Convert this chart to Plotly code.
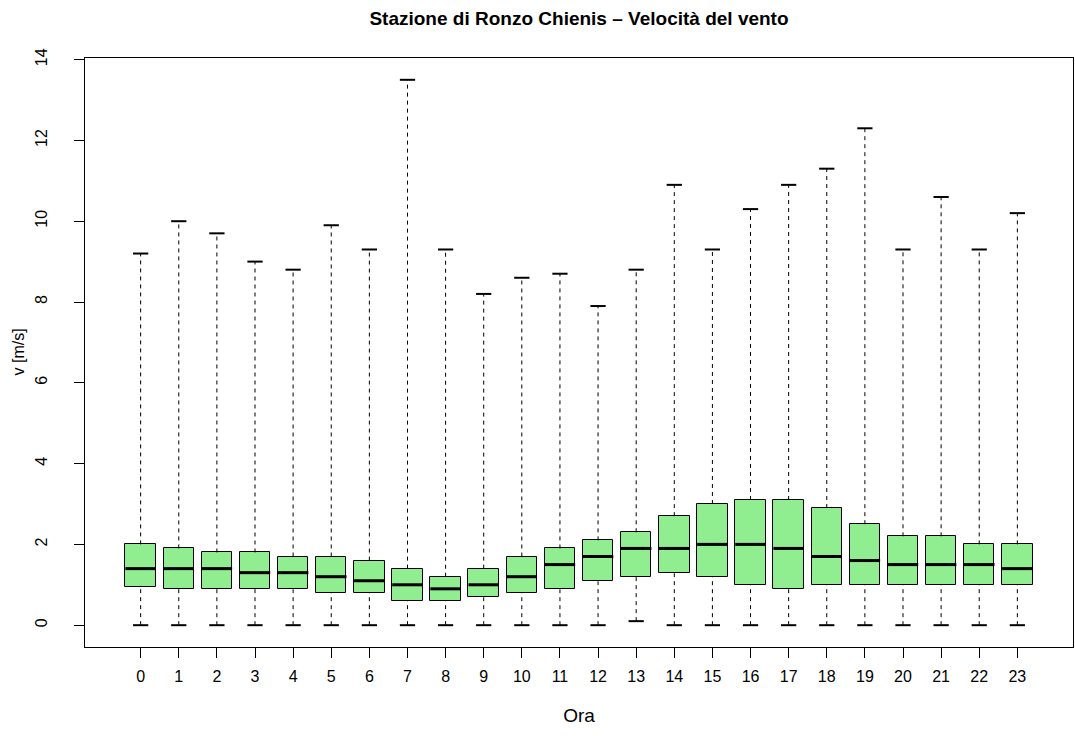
import plotly.graph_objects as go

hours = list(range(24))
tick_labels = [str(h) for h in hours]
q1 = [0.95, 0.9, 0.9, 0.9, 0.9, 0.8, 0.8, 0.6, 0.6, 0.7, 0.8, 0.9,
      1.1, 1.2, 1.3, 1.2, 1.0, 0.9, 1.0, 1.0, 1.0, 1.0, 1.0, 1.0]
median = [1.4, 1.4, 1.4, 1.3, 1.3, 1.2, 1.1, 1.0, 0.9, 1.0, 1.2, 1.5,
          1.7, 1.9, 1.9, 2.0, 2.0, 1.9, 1.7, 1.6, 1.5, 1.5, 1.5, 1.4]
q3 = [2.0, 1.9, 1.8, 1.8, 1.7, 1.7, 1.6, 1.4, 1.2, 1.4, 1.7, 1.9,
      2.1, 2.3, 2.7, 3.0, 3.1, 3.1, 2.9, 2.5, 2.2, 2.2, 2.0, 2.0]
lower = [0.0, 0.0, 0.0, 0.0, 0.0, 0.0, 0.0, 0.0, 0.0, 0.0, 0.0, 0.0,
         0.0, 0.1, 0.0, 0.0, 0.0, 0.0, 0.0, 0.0, 0.0, 0.0, 0.0, 0.0]
upper = [9.2, 10.0, 9.7, 9.0, 8.8, 9.9, 9.3, 13.5, 9.3, 8.2, 8.6, 8.7,
         7.9, 8.8, 10.9, 9.3, 10.3, 10.9, 11.3, 12.3, 9.3, 10.6, 9.3, 10.2]

BOX_W = 0.8
CAP_HALF = 0.2
fill = "#90EE90"

fig = go.Figure()

# whiskers (dashed)
wx, wy = [], []
for h, a, b, lo, hi in zip(hours, q1, q3, lower, upper):
    wx += [h, h, None, h, h, None]
    wy += [b, hi, None, lo, a, None]
fig.add_trace(go.Scatter(x=wx, y=wy, mode="lines",
                         line=dict(color="black", width=1, dash="4px,4px"),
                         hoverinfo="skip", showlegend=False))

# caps
cx, cy = [], []
for h, lo, hi in zip(hours, lower, upper):
    cx += [h - CAP_HALF, h + CAP_HALF, None, h - CAP_HALF, h + CAP_HALF, None]
    cy += [hi, hi, None, lo, lo, None]
fig.add_trace(go.Scatter(x=cx, y=cy, mode="lines",
                         line=dict(color="black", width=2),
                         hoverinfo="skip", showlegend=False))

# boxes
fig.add_trace(go.Bar(x=hours, y=[b - a for a, b in zip(q1, q3)], base=q1,
                     width=BOX_W, marker=dict(color=fill, line=dict(color="black", width=1)),
                     hoverinfo="skip", showlegend=False))

# medians
mx, my = [], []
for h, m in zip(hours, median):
    mx += [h - BOX_W / 2, h + BOX_W / 2, None]
    my += [m, m, None]
fig.add_trace(go.Scatter(x=mx, y=my, mode="lines",
                         line=dict(color="black", width=3),
                         hoverinfo="skip", showlegend=False))

font = dict(family="Liberation Sans, Arial, sans-serif", size=16, color="black")
PLOT_L, PLOT_W = 85, 1075 - 85 - 2

fig.update_layout(
    width=1075, height=736,
    margin=dict(l=PLOT_L, r=2, t=58, b=89),
    paper_bgcolor="white", plot_bgcolor="white",
    font=font,
    title=dict(text="<b>Stazione di Ronzo Chienis – Velocità del vento</b>",
               x=0.5, xref="paper", xanchor="center", y=1 - 18 / 736, yref="container",
               yanchor="middle", font=dict(size=19, family=font["family"], color="black")),
    xaxis=dict(range=[-1.46, 24.46], tickmode="array", tickvals=hours, ticktext=tick_labels,
               showgrid=False, zeroline=False, showline=True, linecolor="black", linewidth=1,
               mirror=True, ticks="outside", ticklen=10, tickcolor="black",
               ticklabelstandoff=5, automargin=False,
               title=dict(text="Ora", standoff=24)),
    yaxis=dict(range=[-0.54, 14.04], tickmode="array", tickvals=list(range(0, 15, 2)),
               showgrid=False, zeroline=False, showline=True, linecolor="black", linewidth=1,
               mirror=True, ticks="outside", ticklen=10, tickcolor="black",
               tickangle=-90, ticklabelstandoff=21, automargin=False),
    annotations=[dict(text="v [m/s]", textangle=-90, xref="paper", yref="paper",
                      x=(18 - PLOT_L) / PLOT_W, y=0.5, xanchor="center", yanchor="middle",
                      showarrow=False, font=font)],
    bargap=0,
)

fig.write_html(
    "out.html", config={"displayModeBar": False},
    post_script=("document.documentElement.style.overflow='hidden';"
                 "document.body.style.margin='0';document.body.style.overflow='hidden';"),
)
